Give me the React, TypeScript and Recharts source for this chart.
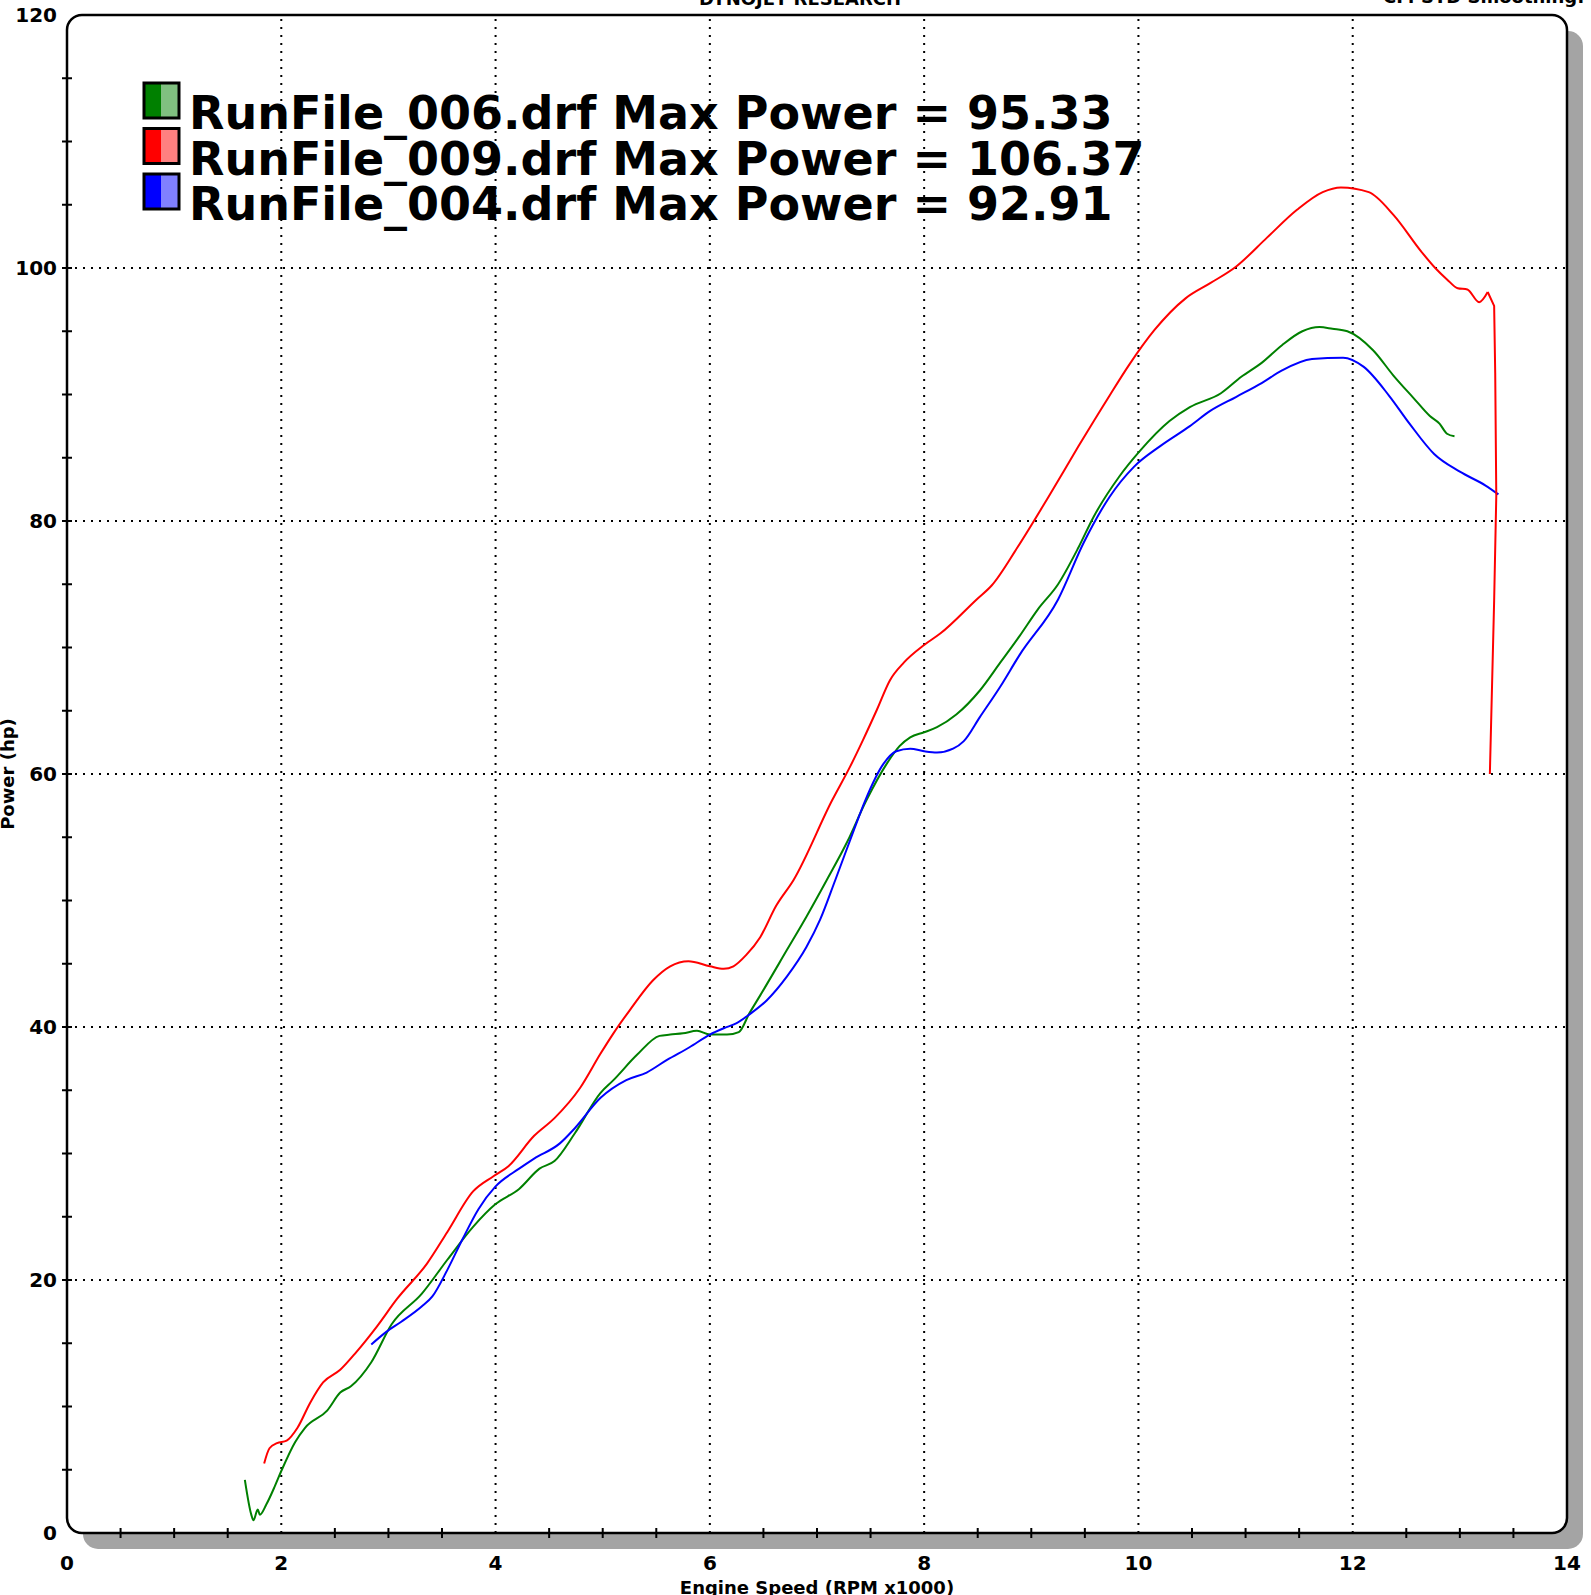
import React from 'react';
import { LineChart, Line, XAxis, YAxis, ReferenceLine, ReferenceArea } from 'recharts';

// ---- data (RPM x1000, hp) ----
const rpm006 = [1.66, 1.72, 1.74, 1.78, 1.80, 1.86, 1.94, 2.0, 2.13, 2.22, 2.43, 2.55, 2.65, 2.84, 3.03, 3.31, 3.55, 3.79, 4.0, 4.22, 4.41, 4.55, 4.74, 4.98, 5.10, 5.32, 5.53, 5.63, 5.75, 5.88, 6.0, 6.16, 6.27, 6.37, 6.47, 6.72, 6.90, 7.09, 7.28, 7.46, 7.65, 7.77, 7.87, 8.0, 8.12, 8.30, 8.52, 8.71, 8.89, 9.06, 9.25, 9.44, 9.58, 9.82, 10.01, 10.29, 10.48, 10.77, 10.96, 11.15, 11.34, 11.53, 11.69, 11.81, 11.95, 12.19, 12.38, 12.57, 12.72, 12.81, 12.88, 12.95];
const hp006 = [4.2, 1.45, 1.0, 1.85, 1.45, 2.25, 3.7, 4.9, 7.2, 8.3, 9.7, 11.1, 11.6, 13.5, 16.5, 18.9, 21.6, 24.2, 26.0, 27.2, 28.8, 29.4, 31.6, 34.8, 35.8, 37.8, 39.3, 39.4, 39.5, 39.7, 39.4, 39.4, 39.6, 41.1, 42.5, 46.1, 48.7, 51.6, 54.6, 57.9, 60.8, 62.2, 62.9, 63.3, 63.7, 64.7, 66.6, 68.8, 70.9, 73.0, 75.0, 77.9, 80.3, 83.5, 85.5, 87.9, 89.0, 90.1, 91.4, 92.5, 93.9, 95.0, 95.33, 95.2, 95.0, 93.5, 91.5, 89.7, 88.3, 87.7, 86.9, 86.7];

const rpm009 = [1.84, 1.89, 1.96, 2.05, 2.15, 2.27, 2.39, 2.55, 2.70, 2.89, 3.08, 3.36, 3.55, 3.79, 3.98, 4.12, 4.36, 4.55, 4.79, 4.98, 5.10, 5.25, 5.47, 5.63, 5.80, 6.0, 6.13, 6.22, 6.34, 6.47, 6.62, 6.78, 7.14, 7.31, 7.43, 7.56, 7.68, 7.81, 8.0, 8.15, 8.49, 8.63, 8.87, 9.16, 9.44, 9.73, 9.91, 10.15, 10.44, 10.67, 10.91, 11.20, 11.48, 11.72, 11.89, 12.15, 12.38, 12.64, 12.77, 12.88, 12.98, 13.07, 13.18, 13.26];
const hp009 = [5.5, 6.7, 7.1, 7.3, 8.3, 10.3, 11.9, 12.9, 14.3, 16.3, 18.5, 21.3, 23.8, 27.0, 28.2, 29.0, 31.4, 32.8, 35.2, 37.9, 39.5, 41.3, 43.7, 44.8, 45.2, 44.8, 44.6, 44.8, 45.7, 47.1, 49.6, 51.6, 57.9, 60.6, 62.7, 65.1, 67.4, 68.8, 70.2, 71.1, 73.8, 74.9, 77.9, 81.9, 85.9, 89.9, 92.3, 95.1, 97.6, 98.8, 100.1, 102.4, 104.6, 106.0, 106.37, 106.0, 104.2, 101.3, 100.0, 99.1, 98.4, 98.3, 97.3, 98.1];
// run-off tail of 009 (drops steeply)
const rpm009Tail = [13.26, 13.32, 13.33, 13.34, 13.32, 13.28];
const hp009Tail = [98.1, 97.0, 91.7, 82.0, 73.7, 60.0];

const rpm004 = [2.84, 2.98, 3.12, 3.31, 3.41, 3.55, 3.69, 3.84, 4.0, 4.22, 4.36, 4.60, 4.74, 4.98, 5.22, 5.41, 5.60, 5.81, 6.0, 6.13, 6.25, 6.37, 6.53, 6.72, 6.90, 7.03, 7.17, 7.35, 7.45, 7.62, 7.74, 7.87, 8.0, 8.12, 8.27, 8.37, 8.52, 8.71, 8.89, 9.25, 9.49, 9.73, 9.96, 10.2, 10.48, 10.67, 10.91, 11.15, 11.34, 11.62, 11.91, 12.10, 12.34, 12.53, 12.76, 13.0, 13.24, 13.36];
const hp004 = [14.9, 15.9, 16.7, 17.9, 18.7, 20.8, 23.2, 25.6, 27.4, 28.8, 29.6, 30.8, 32.0, 34.4, 35.8, 36.4, 37.4, 38.4, 39.4, 39.9, 40.3, 41.0, 42.1, 44.0, 46.3, 48.5, 51.6, 55.7, 57.9, 60.8, 61.8, 62.0, 61.8, 61.7, 62.0, 62.6, 64.5, 66.9, 69.4, 73.8, 78.3, 81.9, 84.3, 85.9, 87.5, 88.7, 89.8, 90.9, 91.9, 92.8, 92.91, 92.2, 89.9, 87.7, 85.3, 83.9, 82.8, 82.1];

const seriesNames = ['RunFile_006.drf', 'RunFile_009.drf', 'RunFile_004.drf'];
const seriesMax = ['95.33', '106.37', '92.91'];
const seriesColors = ['#008000', '#ff0000', '#0000ff'];
const seriesLight = ['#80c080', '#ff8080', '#8080ff'];

const xTicks = [0, 0.5, 1, 1.5, 2, 2.5, 3, 3.5, 4, 4.5, 5, 5.5, 6, 6.5, 7, 7.5, 8, 8.5, 9, 9.5, 10, 10.5, 11, 11.5, 12, 12.5, 13, 13.5, 14];
const xMajor = [0, 2, 4, 6, 8, 10, 12, 14];
const yTicks = [0, 5, 10, 15, 20, 25, 30, 35, 40, 45, 50, 55, 60, 65, 70, 75, 80, 85, 90, 95, 100, 105, 110, 115, 120];
const yMajor = [0, 20, 40, 60, 80, 100, 120];
const xGrid = [2, 4, 6, 8, 10, 12];
const yGrid = [20, 40, 60, 80, 100];

const toPts = (xs: number[], ys: number[]) => xs.map((x, i) => ({ x, y: ys[i] }));
const data006 = toPts(rpm006, hp006);
const data009 = toPts(rpm009, hp009);
const data009Tail = toPts(rpm009Tail, hp009Tail);
const data004 = toPts(rpm004, hp004);

const W = 1591;
const H = 1595;
const FONT = "'DejaVu Sans', Verdana, sans-serif";

const XTick = (props: any) => {
  const { x, y, payload } = props;
  const v = payload.value;
  const major = xMajor.includes(v);
  return (
    <g>
      {major ? (
        <text x={x} y={y + 37} textAnchor="middle" fontSize={20} fontWeight="bold" fill="#000" fontFamily={FONT}>
          {v}
        </text>
      ) : (
        <line x1={x} x2={x} y1={y - 5} y2={y + 5} stroke="#000" strokeWidth={2} />
      )}
    </g>
  );
};

const YTick = (props: any) => {
  const { x, y, payload } = props;
  const v = payload.value;
  const major = yMajor.includes(v);
  const edge = v === 0 || v === 120;
  return (
    <g>
      {major && (
        <text x={x - 10} y={y + 7} textAnchor="end" fontSize={20} fontWeight="bold" fill="#000" fontFamily={FONT}>
          {v}
        </text>
      )}
      {!edge && <line x1={x - 5} x2={x + 5} y1={y} y2={y} stroke="#000" strokeWidth={2} />}
    </g>
  );
};

const FrameShape = (props: any) => {
  const { x, y, width, height } = props;
  const r = 15;
  const off = 16;
  return (
    <g>
      <defs>
        <mask id="frameShadowMask">
          <rect x={x - 40} y={y - 40} width={width + 120} height={height + 120} fill="#fff" />
          <rect x={x} y={y} width={width} height={height} rx={r} ry={r} fill="#000" />
        </mask>
      </defs>
      <rect x={x + off} y={y + off} width={width} height={height} rx={r} ry={r} fill="#a4a4a4" mask="url(#frameShadowMask)" />
      <rect x={x} y={y} width={width} height={height} rx={r} ry={r} fill="none" stroke="#000" strokeWidth={2.5} />
    </g>
  );
};

export default function App() {
  return (
    <div style={{ position: 'absolute', left: 0, top: 0, width: W, height: H, background: '#fff' }}>
      <LineChart
        width={W}
        height={H}
        margin={{ top: 15, right: 24, left: 0, bottom: 0 }}
        style={{ fontFamily: FONT }}
      >
        <XAxis
          type="number"
          dataKey="x"
          domain={[0, 14]}
          ticks={xTicks}
          interval={0}
          height={62}
          axisLine={false}
          tickLine={false}
          tickSize={0}
          tickMargin={0}
          tick={<XTick />}
          allowDataOverflow
        />
        <YAxis
          type="number"
          dataKey="y"
          domain={[0, 120]}
          ticks={yTicks}
          interval={0}
          width={67}
          axisLine={false}
          tickLine={false}
          tickSize={0}
          tickMargin={0}
          tick={<YTick />}
          allowDataOverflow
        />
        <ReferenceArea x1={0} x2={14} y1={0} y2={120} shape={<FrameShape />} />
        {xGrid.map((v) => (
          <ReferenceLine key={'gx' + v} x={v} stroke="#000" strokeWidth={2} strokeDasharray="2 6" />
        ))}
        {yGrid.map((v) => (
          <ReferenceLine key={'gy' + v} y={v} stroke="#000" strokeWidth={2} strokeDasharray="2 6" />
        ))}
        <Line data={data006} dataKey="y" type="monotone" stroke={seriesColors[0]} strokeWidth={2} dot={false} isAnimationActive={false} />
        <Line data={data004} dataKey="y" type="monotone" stroke={seriesColors[2]} strokeWidth={2} dot={false} isAnimationActive={false} />
        <Line data={data009} dataKey="y" type="monotone" stroke={seriesColors[1]} strokeWidth={2} dot={false} isAnimationActive={false} />
        <Line data={data009Tail} dataKey="y" type="linear" stroke={seriesColors[1]} strokeWidth={2} dot={false} isAnimationActive={false} />
      </LineChart>
      <svg
        width={W}
        height={H}
        style={{ position: 'absolute', left: 0, top: 0, pointerEvents: 'none' }}
        fontFamily={FONT}
      >
        <text x={800} y={5} textAnchor="middle" fontSize={18} fontWeight="bold" fill="#000">DYNOJET RESEARCH</text>
        <text x={1383} y={3} textAnchor="start" fontSize={18} fontWeight="bold" fill="#000">CF: STD Smoothing: 5</text>
        <text x={14} y={774} textAnchor="middle" fontSize={18} fontWeight="bold" fill="#000" transform="rotate(-90 14 774)">Power (hp)</text>
        <text x={817} y={1594} textAnchor="middle" fontSize={18} fontWeight="bold" fill="#000">Engine Speed (RPM x1000)</text>
        {seriesNames.map((name, i) => {
          const top = 83 + i * 45.5;
          return (
            <g key={name}>
              <rect x={144} y={top} width={17.5} height={35} fill={seriesColors[i]} />
              <rect x={161.5} y={top} width={17.5} height={35} fill={seriesLight[i]} />
              <rect x={144} y={top} width={35} height={35} fill="none" stroke="#000" strokeWidth={3} />
              <text x={189} y={top + 46} fontSize={46} fontWeight="bold" fill="#000">
                {name} Max Power = {seriesMax[i]}
              </text>
            </g>
          );
        })}
      </svg>
    </div>
  );
}
